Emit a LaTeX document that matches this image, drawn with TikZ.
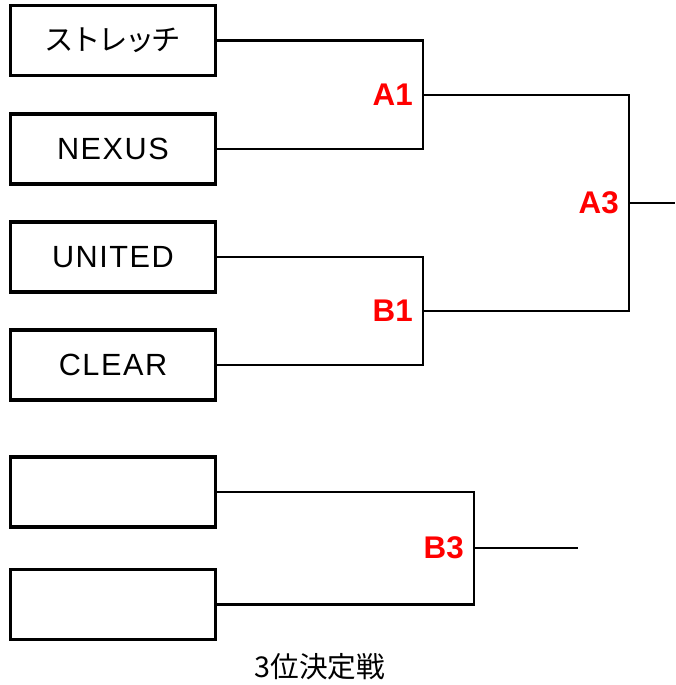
\documentclass[tikz,border=0pt]{standalone}
\usepackage{fontspec}
\setmainfont{Liberation Sans}
\newfontfamily\teamfont{Liberation Sans}[LetterSpace=5]
\newfontfamily\jpfont{Noto Sans CJK JP}
\newfontfamily\jpteam{Noto Sans CJK JP}[LetterSpace=-9]
\usetikzlibrary{positioning}

\begin{document}
\begin{tikzpicture}[x=0.75pt,y=-0.75pt,
    team/.style={draw,line width=2.4pt,minimum width=153.75pt,minimum height=52.5pt,inner sep=0pt,font=\teamfont\fontsize{23}{26}\selectfont},
    match/.style={text=red,anchor=east,inner sep=0pt,font=\bfseries\fontsize{23.5}{26}\selectfont},
    wire/.style={line width=1.8pt}]
	\useasboundingbox (0,0) rectangle (675,685);

    % The teams
	\node [team] at (113,40.5) (s1) {\jpteam\fontsize{22}{26}\selectfont ストレッチ};
	\node [team] at (113,149) (s2) {NEXUS};
	\node [team] at (113,257) (s3) {UNITED};
	\node [team] at (113,365) (s4) {CLEAR};
	\node [team] at (113,492) (s5) {};
	\node [team] at (113,604.5) (s6) {};

	% Bracket joints
	\coordinate (a1) at (423,95);
	\coordinate (b1) at (423,311);
	\coordinate (a3) at (629,203);
	\coordinate (b3) at (474,548);
	\coordinate (a3out) at (675,203);
	\coordinate (b3out) at (578,548);

	% Bracket lines
	\draw[wire] (s1.east) -| (a1) |- (s2.east);
	\draw[wire] (s3.east) -| (b1) |- (s4.east);
	\draw[wire] (a1) -| (a3) |- (b1);
	\draw[wire] (s5.east) -| (b3) |- (s6.east);
	\draw[wire] (a3) -- (a3out);
	\draw[wire] (b3) -- (b3out);

	% Match labels
	\node [match] at ([xshift=-7.5pt]a1) (la1) {A1};
	\node [match] at ([xshift=-7.5pt]b1) (lb1) {B1};
	\node [match] at ([xshift=-7.5pt]a3) (la3) {A3};
	\node [match] at ([xshift=-7.5pt]b3) (lb3) {B3};

	\node [font=\jpfont\fontsize{21.5}{24}\selectfont] at (320,667) (third) {3位決定戦};

\end{tikzpicture}
\end{document}
